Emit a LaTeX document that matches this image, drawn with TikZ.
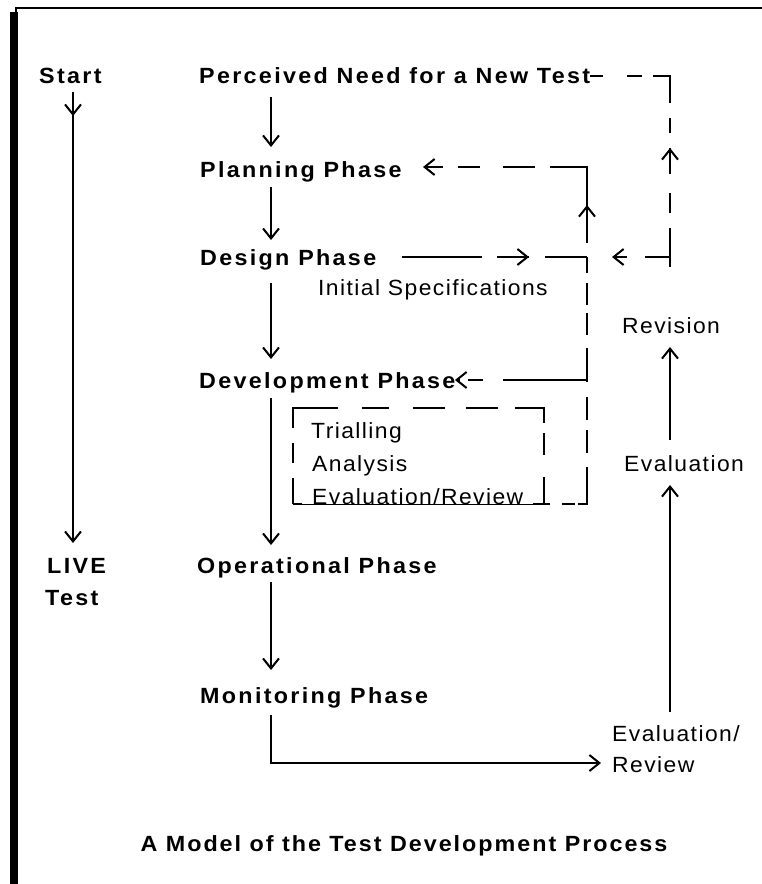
\documentclass[tikz,border=0pt]{standalone}
\usepackage{fontspec}
\setmainfont{Liberation Sans}
\newfontfamily\labB[LetterSpace=10.5,FakeStretch=1.06]{Liberation Sans}
\newfontfamily\labR[LetterSpace=6.5,FakeStretch=1.04]{Liberation Sans}
\newfontfamily\labT[LetterSpace=9,FakeStretch=1.06]{Liberation Sans}
\usetikzlibrary{arrows.meta,decorations.markings}
\tikzset{
  bt/.style={font=\labB\bfseries\fontsize{22}{26}\selectfont, inner sep=0pt, anchor=base west},
  rt/.style={font=\labR\fontsize{22}{26}\selectfont, inner sep=0pt, anchor=base west},
  ln/.style={line width=2pt, line cap=butt},
  >={Straight Barb[length=10pt,width=16pt]},
  midarr/.style={postaction={decorate,decoration={markings,mark=at position #1 with {\arrow{>}}}}}
}
\begin{document}
\begin{tikzpicture}[x=1pt,y=-1pt]
\useasboundingbox (0,0) rectangle (762,884);
\fill[white] (0,0) rectangle (762,884);
% frame
\fill[black] (9.5,12) rectangle (17.5,884);
\draw[line width=2.5pt] (15,8) -- (762,8);
\draw[line width=2.5pt] (16,8) -- (16,884);

% coordinates
\coordinate (sA) at (73,92);   \coordinate (sB) at (73,543);
\coordinate (c1a) at (271,97);  \coordinate (c1b) at (271,147);
\coordinate (c2a) at (271,187); \coordinate (c2b) at (271,240);
\coordinate (c3a) at (271,283); \coordinate (c3b) at (271,359);
\coordinate (c4a) at (271,398); \coordinate (c4b) at (271,545);
\coordinate (c5a) at (271,582); \coordinate (c5b) at (271,670);
\coordinate (c6a) at (271,715); \coordinate (c6b) at (601,763);
\coordinate (r1a) at (670,712); \coordinate (r1b) at (670,485);
\coordinate (r2a) at (670,440); \coordinate (r2b) at (670,347);
\coordinate (oa1) at (670,267); \coordinate (oa2) at (670,76); \coordinate (oa3) at (590,76);
\coordinate (ob1) at (544,504); \coordinate (ob2) at (587,504); \coordinate (ob3) at (587,167); \coordinate (ob4) at (423,167);
\coordinate (d1) at (402,257); \coordinate (d2) at (587,257);
\coordinate (e1) at (670,257); \coordinate (e2) at (612,257);
\coordinate (v1) at (587,380); \coordinate (v2) at (455,380);
\coordinate (b1) at (293,504); \coordinate (b2) at (293,408); \coordinate (b3) at (544,408); \coordinate (b4) at (544,504);

% solid connectors
\draw[ln,->,midarr=24pt] (sA) -- (sB);
\draw[ln,->] (c1a) -- (c1b);
\draw[ln,->] (c2a) -- (c2b);
\draw[ln,->] (c3a) -- (c3b);
\draw[ln,->] (c4a) -- (c4b);
\draw[ln,->] (c5a) -- (c5b);
\draw[ln,->] (c6a) |- (c6b);
\draw[ln,->] (r1a) -- (r1b);
\draw[ln,->] (r2a) -- (r2b);

% dashed connectors
\draw[ln,midarr=119pt,dash pattern=on 39pt off 15pt on 20pt off 19pt on 26pt off 15pt on 15pt off 15pt on 44pt off 11pt on 15pt off 24pt on 20pt off 0pt]
  (oa1) -- (oa2) -- (oa3);
\draw[ln,->,midarr=342pt,dash pattern=on 6pt off 12pt on 13pt off 3pt on 46pt off 14pt on 23pt off 10pt on 23pt off 15pt on 34pt off 13pt on 22pt off 8pt on 22pt off 10pt on 16pt off 14pt on 113pt off 15pt on 32pt off 23pt on 22pt off 15pt on 60pt off 0pt]
  (ob1) -- (ob2) -- (ob3) -- (ob4);
\draw[ln,midarr=127pt,dash pattern=on 80pt off 15pt on 32pt off 16pt on 50pt off 0pt] (d1) -- (d2);
\draw[ln,->,dash pattern=on 25pt off 18pt on 40pt off 0pt] (e1) -- (e2);
\draw[ln,->,dash pattern=on 84pt off 20pt on 15pt off 8pt on 40pt off 0pt] (v1) -- (v2);
\draw[ln,dash pattern=on 26pt off 15pt on 20pt off 15pt on 65pt off 24pt on 27pt off 24pt on 32pt off 21pt on 32pt off 17pt on 44pt off 10pt on 22pt off 22pt on 400pt off 0pt]
  (b1) -- (b2) -- (b3) -- (b4) -- (b1);

% texts
\node[bt] (start) at (39,83) {Start};
\node[bt] (perc) at (199,83) {Perceived Need for a New Test};
\node[bt] (plan) at (200,177) {Planning Phase};
\node[bt] (design) at (200,265) {Design Phase};
\node[rt] (init) at (318,295) {Initial Specifications};
\node[rt] (rev) at (622,333) {Revision};
\node[bt] (dev) at (199,388) {Development Phase};
\node[rt] (trial) at (311,438) {Trialling};
\node[rt] (anal) at (312,471) {Analysis};
\node[rt, fill=white, inner xsep=10pt] (evrev) at (302,504) {Evaluation/Review};
\node[rt] (evalr) at (624,471) {Evaluation};
\node[bt] (live) at (47,573) {LIVE};
\node[bt] (test) at (45,605) {Test};
\node[bt] (oper) at (197,573) {Operational Phase};
\node[bt] (mon) at (200,703) {Monitoring Phase};
\node[rt] (evl1) at (612,741) {Evaluation/};
\node[rt] (evl2) at (612,772) {Review};
\node[font=\labT\bfseries\fontsize{22}{26}\selectfont, inner sep=0pt, anchor=base] (title) at (404,851) {A Model of the Test Development Process};
\end{tikzpicture}
\end{document}
